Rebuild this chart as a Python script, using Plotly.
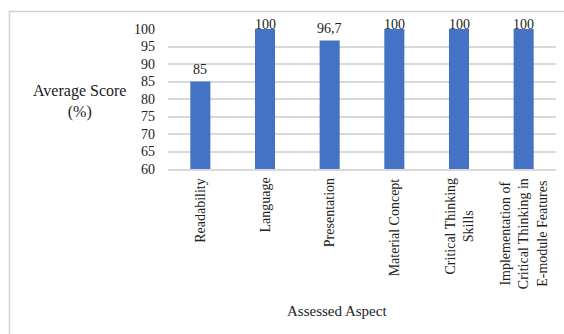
import plotly.graph_objects as go

categories = ["Readability", "Language", "Presentation", "Material Concept",
              "Critical Thinking<br>Skills",
              "Implementation of<br>Critical Thinking in<br>E-module Features"]
scores = [85, 100, 96.7, 100, 100, 100]
score_labels = ["85", "100", "96,7", "100", "100", "100"]
y_ticks = [60, 65, 70, 75, 80, 85, 90, 95, 100]

W, H = 564, 334
L, R, T, B = 168, 8, 29, 165
pw, ph = W - L - R, H - T - B
ymin, ymax = 60, 100

def px_x(x):
    return (x - L) / pw

def px_y(y):
    return (H - B - y) / ph

font = "Times New Roman, Liberation Serif, serif"

fig = go.Figure(go.Bar(
    x=categories, y=scores,
    marker=dict(color="#4472C4", line=dict(width=0)),
    hoverinfo="x+y",
))

annotations = []
for c, v, lab in zip(categories, scores, score_labels):
    top_px = T + (ymax - v) / (ymax - ymin) * ph
    center_px = max(top_px - 12, 24.5)
    annotations.append(dict(
        x=c, y=v, xref="x", yref="y", text=lab, showarrow=False,
        yanchor="middle", yshift=top_px - center_px,
        font=dict(size=14, family=font, color="#222"),
    ))
    annotations.append(dict(
        x=c, y=0, xref="x", yref="paper", text=c, showarrow=False,
        textangle=-90, yanchor="top", xanchor="center", align="center",
        yshift=-7,
        font=dict(size=14, family=font, color="#222"),
    ))

annotations += [
    dict(text="Average Score<br>(%)", x=px_x(79), y=px_y(101), xref="paper", yref="paper",
         showarrow=False, font=dict(size=16, family=font), xanchor="center", yanchor="middle"),
    dict(text="Assessed Aspect", x=px_x(337), y=px_y(311), xref="paper", yref="paper",
         showarrow=False, font=dict(size=15, family=font), xanchor="center", yanchor="middle"),
]

fig.update_layout(
    width=W, height=H,
    margin=dict(l=L, r=R, t=T, b=B),
    paper_bgcolor="white", plot_bgcolor="white",
    bargap=0.69,
    showlegend=False,
    font=dict(family=font, color="#222"),
    xaxis=dict(showticklabels=False,
               showgrid=False, showline=True, linecolor="#d9d9d9", linewidth=1.5,
               ticks="", ticklen=0),
    yaxis=dict(range=[ymin, ymax], tickvals=y_ticks, tickfont=dict(size=14, family=font),
               showgrid=True, gridcolor="#d9d9d9", gridwidth=1.5, zeroline=False, ticks="",
               ticklabelstandoff=12, showline=False),
    annotations=annotations,
    shapes=[
        dict(type="line", xref="paper", yref="paper", x0=px_x(9.5), x1=px_x(9.5),
             y0=px_y(11), y1=px_y(334), line=dict(color="#d0d0d0", width=1.5)),
        dict(type="line", xref="paper", yref="paper", x0=px_x(9), x1=px_x(564),
             y0=px_y(11.5), y1=px_y(11.5), line=dict(color="#d0d0d0", width=1.5)),
    ],
)

fig.write_html("out.html")
